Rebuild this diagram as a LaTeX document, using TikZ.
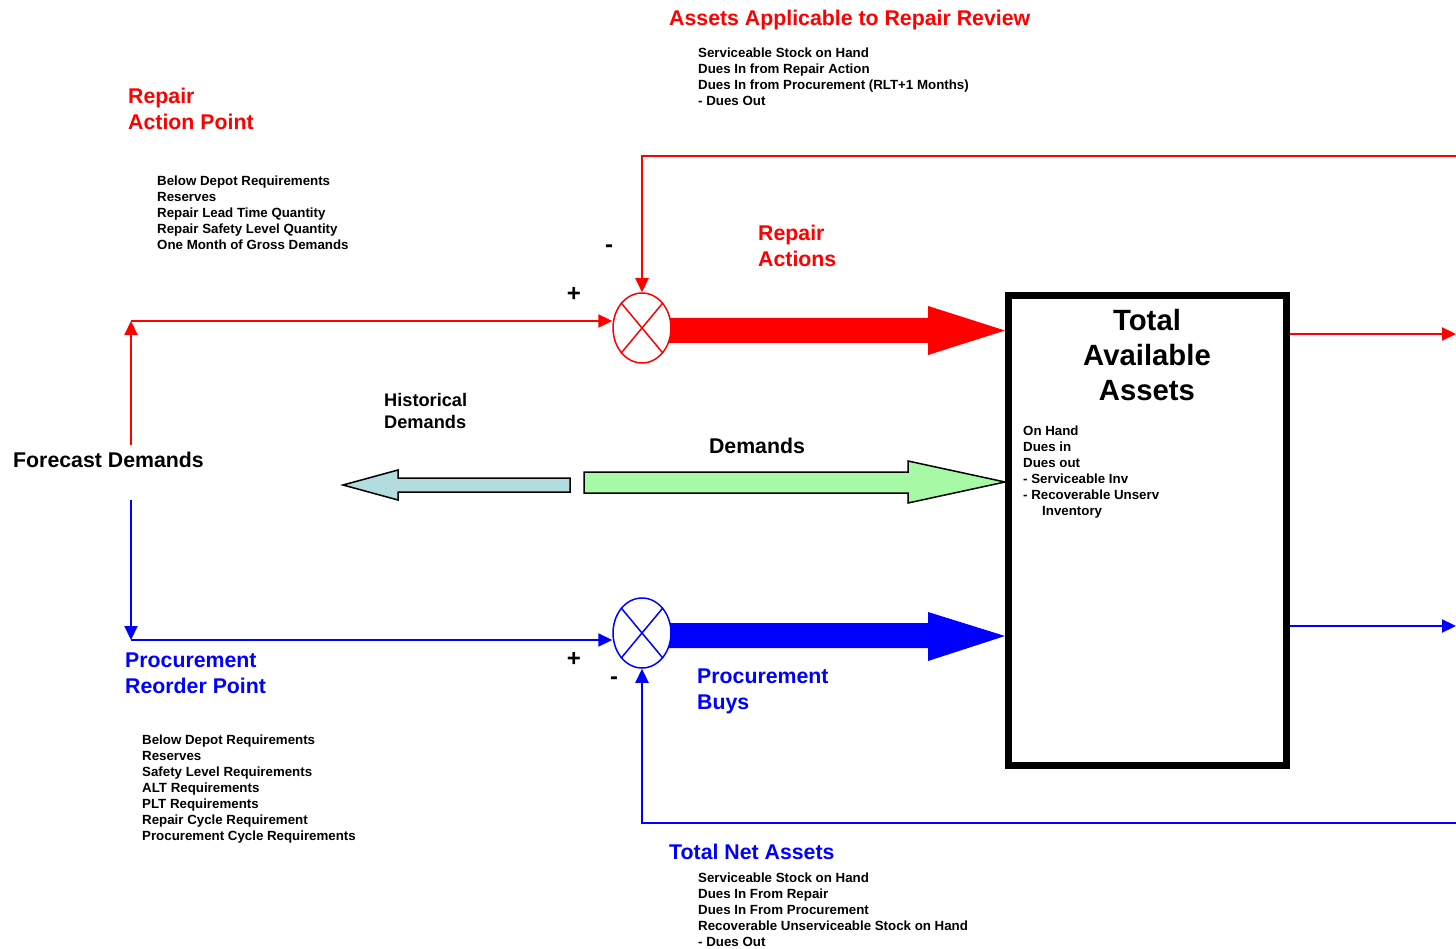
\documentclass[tikz,border=0pt]{standalone}
\usepackage{fontspec}
\setmainfont{Liberation Sans}
\usetikzlibrary{arrows.meta,shapes.geometric,calc}
\definecolor{demgreen}{RGB}{166,250,166}
\definecolor{histblue}{RGB}{178,220,222}
\begin{document}
\begin{tikzpicture}[x=1pt,y=-1pt,
  txt/.style={inner sep=0pt, anchor=north west, align=left, font=\fontsize{13.3}{16}\selectfont\bfseries},
  lbl/.style={inner sep=0pt, anchor=north west, align=left, font=\fontsize{21.3}{25.5}\selectfont\bfseries},
  sign/.style={inner sep=0pt, font=\fontsize{24}{28}\selectfont\bfseries},
  flow/.style={line width=2.2pt, -{Triangle[length=14pt,width=13pt]}},
  sumnode/.style={ellipse, draw, line width=1.5pt, fill=white, minimum width=58pt, minimum height=70pt, inner sep=0pt},
  bigarrow/.style={draw=black, line width=1.5pt, line join=miter}
]
\useasboundingbox (0,0) rectangle (1456,949);

% wide flow arrows into the asset box
\fill[red] (660,318) -- (928,318) -- (928,306) -- (1005,330.5) -- (928,355) -- (928,343) -- (660,343) -- cycle;
\fill[blue] (660,623) -- (928,623) -- (928,612) -- (1005,636) -- (928,661) -- (928,648) -- (660,648) -- cycle;

% demand arrows
\filldraw[bigarrow, fill=demgreen] (584,472) -- (908,472) -- (908,461) -- (1005,482) -- (908,503) -- (908,493) -- (584,493) -- cycle;
\filldraw[bigarrow, fill=histblue] (570,478) -- (398,478) -- (398,470) -- (343,485) -- (398,500) -- (398,492) -- (570,492) -- cycle;

% summing junctions
\node[sumnode, draw=red] (rsum) at (642,328) {};
\draw[red, line width=1.5pt] (rsum.north west) -- (rsum.south east) (rsum.north east) -- (rsum.south west);
\node[sumnode, draw=blue] (bsum) at (642,633) {};
\draw[blue, line width=1.5pt] (bsum.north west) -- (bsum.south east) (bsum.north east) -- (bsum.south west);

% asset box
\node[draw, line width=7pt, minimum width=278pt, minimum height=470pt, inner sep=0pt] (box) at (1147.5,530.5) {};
\node[inner sep=0pt, anchor=north, align=center, font=\fontsize{29.3}{35}\selectfont\bfseries] (boxTitle) at (1147,309) {Total\\Available\\Assets};
\node[txt] (boxList) at (1023,426) {On Hand\\Dues in\\Dues out\\- Serviceable Inv\\- Recoverable Unserv\\\hspace*{19pt}Inventory};

% labels
\node[lbl, text=red] (aarTitle) at (669,10) {Assets Applicable to Repair Review};
\node[txt] (aarList) at (698,48) {Serviceable Stock on Hand\\Dues In from Repair Action\\Dues In from Procurement (RLT+1 Months)\\- Dues Out};
\node[lbl, text=red] (rap) at (128,88) {Repair\\Action Point};
\node[txt] (rapList) at (157,176) {Below Depot Requirements\\Reserves\\Repair Lead Time Quantity\\Repair Safety Level Quantity\\One Month of Gross Demands};
\node[lbl, text=red] (ract) at (758,225) {Repair\\Actions};
\node[sign] (rminus) at (609,249) {-};
\node[sign] (rplus) at (574,294) {+};

\node[inner sep=0pt, anchor=north west, align=left, font=\fontsize{18.2}{22}\selectfont\bfseries] (hist) at (384,393) {Historical\\Demands};
\node[inner sep=0pt, font=\fontsize{21.3}{25}\selectfont\bfseries] (dem) at (757,446) {Demands};
\node[inner sep=0pt, anchor=west, font=\fontsize{21.3}{25}\selectfont\bfseries] (fd) at (13,460) {Forecast Demands};

\node[lbl, text=blue] (prp) at (125,653) {Procurement\\Reorder Point};
\node[txt] (prpList) at (142,735) {Below Depot Requirements\\Reserves\\Safety Level Requirements\\ALT Requirements\\PLT Requirements\\Repair Cycle Requirement\\Procurement Cycle Requirements};
\node[sign] (bplus) at (574,659) {+};
\node[sign] (bminus) at (614,681) {-};
\node[lbl, text=blue] (pbuy) at (697,669) {Procurement\\Buys};
\node[lbl, text=blue] (tna) at (669,844) {Total Net Assets};
\node[txt] (tnaList) at (698,873) {Serviceable Stock on Hand\\Dues In From Repair\\Dues In From Procurement\\Recoverable Unserviceable Stock on Hand\\- Dues Out};

% repair loop
\coordinate (rUp) at (131,445);
\coordinate (rCorner) at (131,321);
\coordinate (rIn) at (1456,156);
\coordinate (rOut) at (1456,334);
\draw[flow, red] (rUp) -- (rCorner);
\draw[flow, red] (rCorner) -- (rsum.west |- rCorner);
\draw[flow, red] (rIn) -- (rsum.north |- rIn) -- (rsum.north);
\draw[flow, red] (box.east |- rOut) -- (rOut);

% procurement loop
\coordinate (bDown) at (131,500);
\coordinate (bCorner) at (131,640);
\coordinate (bIn) at (1456,823);
\coordinate (bOut) at (1456,626);
\draw[flow, blue] (bDown) -- (bCorner);
\draw[flow, blue] (bCorner) -- (bsum.west |- bCorner);
\draw[flow, blue] (bIn) -- (bsum.south |- bIn) -- (bsum.south);
\draw[flow, blue] (box.east |- bOut) -- (bOut);
\end{tikzpicture}
\end{document}
